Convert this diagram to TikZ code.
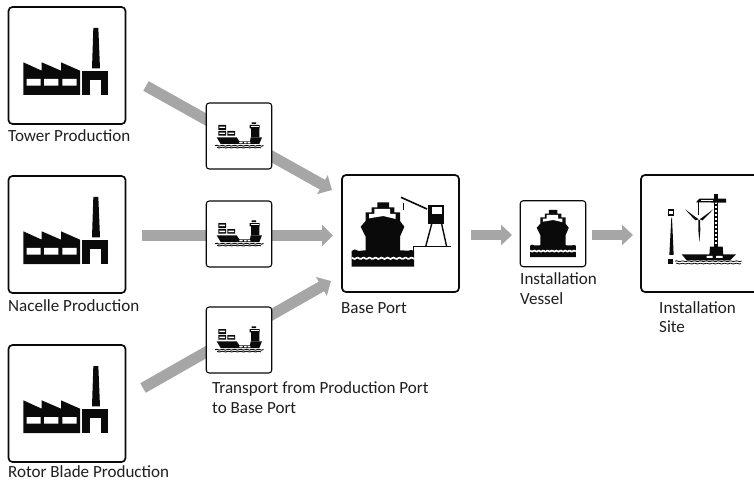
\documentclass[tikz,border=0pt]{standalone}
\usepackage{fontspec}
\setmainfont{Carlito}
\usetikzlibrary{arrows.meta,backgrounds}
\definecolor{arrowgray}{HTML}{A6A6A6}
\definecolor{ink}{HTML}{0A0A0A}
\tikzset{
  iconbox/.style={draw=ink,fill=white,line width=1.7pt,rounded corners=4pt,inner sep=0pt,minimum width=#1,minimum height=#1},
  smallbox/.style={draw=ink,fill=white,line width=1.1pt,rounded corners=3pt,inner sep=0pt,minimum width=65.5pt,minimum height=66pt},
  caption/.style={font=\fontsize{17.05}{20}\selectfont,text=black!88,anchor=base west,inner sep=0pt,align=left},
  bigarrow/.style={draw=arrowgray,line width=11pt,-{Triangle[length=11pt,width=21pt]}},
  smallarrow/.style={draw=arrowgray,line width=10pt,-{Triangle[length=11pt,width=20pt]}},
  factory/.pic={
    \fill[ink] (70,187)--(125,212)--(125,187)--(183,212)--(183,187)--(240,212)--(240,285)--(70,285)--cycle;
    \fill[white] (80,237) rectangle (122,257) (132,237) rectangle (175,257) (187,237) rectangle (230,257);
    \fill[ink] (247,212) rectangle (325,285);
    \fill[white] (270,240) rectangle (302,285);
    \fill[ink] (280,84)--(295,84)--(300,205)--(276,205)--cycle;
  },
  cargoship/.pic={
    \fill[ink] (55,90) rectangle (78,105) (55,108) rectangle (78,122) (82,108) rectangle (105,122);
    \fill[white] (58,95) rectangle (75,99) (58,113) rectangle (75,117) (85,113) rectangle (102,117);
    \fill[ink] (50,127)--(110,127)--(118,139)--(150,139)--(152,127)--(186,127)--(178,147)--(62,147)--cycle;
    \fill[white] (118,141) rectangle (128,145) (132,141) rectangle (140,145) (143,141) rectangle (151,145);
    \fill[ink] (153,100) rectangle (178,127) (149,90) rectangle (179,100) (155,82) rectangle (168,87);
    \fill[white] (152,93) rectangle (176,96);
    \draw[ink,line width=.9pt,scale=3] plot[smooth,domain=15:63.5,samples=25] (\x,{50.7+.5*sin(\x*60)});
    \draw[ink,line width=.9pt,scale=3] plot[smooth,domain=17:61,samples=25] (\x,{52.6+.4*sin(\x*60)});
  },
  frontship/.pic={
    \fill[ink] (127,112)--(162,112)--(162,127)--(178,127)--(178,142)--(195,142)--(195,168)--(208,185)--(195,215)--(195,262)--(92,262)--(92,215)--(77,185)--(92,168)--(92,142)--(110,142)--(110,127)--(127,127)--cycle;
    \fill[white] (102,160)--(102,147)--(118,147)--(118,132)--(165,132)--(165,147)--(182,147)--(182,162)--(145,153)--cycle;
    \fill[ink] (50,258) .. controls (56,252) and (62,252) .. (68,257) .. controls (74,260) and (84,254) .. (92,256) -- (195,256) .. controls (205,253) and (212,260) .. (220,257) .. controls (226,254) and (232,254) .. (237,258) -- (237,305) -- (50,305) -- cycle;
    \draw[white,line width=1.7pt,scale=3] plot[smooth,domain=16.7:79,samples=41] (\x,{93.3+.7*sin(\x*60)});
  },
}
\begin{document}
\begin{tikzpicture}[x=1pt,y=-1pt]
\useasboundingbox (0,0) rectangle (754,481);
% icon boxes
\node[iconbox=117pt] (tower) at (67,65.5) {};
\node[iconbox=117pt] (nacelle) at (67,234.5) {};
\node[iconbox=117pt] (rotor) at (67,403.5) {};
\node[iconbox=117pt] (base) at (400.5,233.5) {};
\node[iconbox=117pt,minimum width=122pt] (site) at (702,233.5) {};
\node[smallbox] (shipA) at (239,136) {};
\node[smallbox] (shipB) at (239,234) {};
\node[smallbox] (shipC) at (239,340) {};
\node[smallbox] (vessel) at (553,233.7) {};
% arrow ends
\coordinate (tailA) at (146,86);
\coordinate (tipA) at (332,190);
\coordinate (tailB) at (142,235.5);
\coordinate (tipB) at (333,235.5);
\coordinate (tailC) at (143,388);
\coordinate (tipC) at (331,281);
\coordinate (tailD) at (471,235);
\coordinate (tipD) at (512,235);
\coordinate (tailE) at (592,235);
\coordinate (tipE) at (633,235);
\begin{pgfonlayer}{background}
\fill[white] (0,0) rectangle (754,481);
\draw[bigarrow] (tailA) -- (tipA);
\draw[bigarrow] (tailB) -- (tipB);
\draw[bigarrow] (tailC) -- (tipC);
\draw[smallarrow] (tailD) -- (tipD);
\draw[smallarrow] (tailE) -- (tipE);
\end{pgfonlayer}
% factories
\pic[scale=1/3] at (0,0) {factory};
\pic[scale=1/3] at (0,169) {factory};
\pic[scale=1/3] at (0,338) {factory};
% transport ships
\pic[scale=1/3] at (200,95) {cargoship};
\pic[scale=1/3] at (200,193) {cargoship};
\pic[scale=1/3] at (200,299) {cargoship};
% base port
\pic[scale=1/3] at (335,165) {frontship};
\begin{scope}[shift={(335,165)},scale=1/3]
\draw[ink,line width=1.6pt] (198,97) -- (276,132);
\draw[ink,line width=1.2pt] (205,113) -- (205,136);
\fill[ink] (280,120) rectangle (328,177);
\fill[white] (292,127) rectangle (320,147);
\draw[ink,line width=1.4pt] (290,177) -- (272,245) (320,177) -- (335,245);
\draw[ink,line width=1.3pt] (236,262) -- (236,245) -- (348,245);
\end{scope}
% installation vessel
\pic[scale=.245] at (517.8,182.5) {frontship};
% installation site
\begin{scope}[shift={(630,165)},scale=1/3]
\fill[ink] (113,132) rectangle (133,152);
\fill[white] (118,137) rectangle (128,147);
\fill[ink] (124,158)--(126,158)--(131,270)--(118,270)--cycle;
\fill[ink] (115,283) rectangle (130,298);
\fill[ink] (206,163)--(165,133)--(196,166)--cycle;
\fill[ink] (209,163)--(250,133)--(218,166)--cycle;
\fill[ink] (205,165)--(210,165)--(211,195)--(208,232)--(205,195)--cycle;
\fill[ink] (252,88) rectangle (265,245);
\foreach \yy in {110,122,...,240} \fill[white] (255,\yy) rectangle (262,\yy+6);
\fill[ink] (198,112)--(208,101)--(288,101)--(288,113)--cycle;
\fill[white] (212,105) rectangle (250,109);
\draw[ink,line width=.8pt] (205,112) -- (205,150);
\fill[ink] (240,245)--(278,245)--(280,270)--(238,270)--cycle;
\fill[ink] (155,268)--(318,268)--(300,286)--(170,286)--cycle;
\fill[white] (230,273) rectangle (248,279) (258,273) rectangle (278,279);
\draw[ink,line width=.8pt,scale=3] plot[smooth,domain=45:111.5,samples=41] (\x,{96.2+.4*sin(\x*60)});
\draw[ink,line width=.8pt,scale=3] plot[smooth,domain=46:111,samples=41] (\x,{98.6+.4*sin(\x*60)});
\end{scope}
% captions
\node[caption] (capA) at (8,141.5) {Tower Production};
\node[caption] (capB) at (8,311.5) {Nacelle Production};
\node[caption] (capC) at (8,477) {Rotor Blade Production};
\node[caption] (capD) at (341,313) {Base Port};
\node[caption] (capE) at (520,284.5) {Installation};
\node[caption] (capE2) at (520,304) {Vessel};
\node[caption] (capF) at (659,313) {Installation};
\node[caption] (capF2) at (659,332.5) {Site};
\node[caption] (capG) at (212,393) {Transport from Production Port};
\node[caption] (capG2) at (212,413) {to Base Port};
\end{tikzpicture}
\end{document}
